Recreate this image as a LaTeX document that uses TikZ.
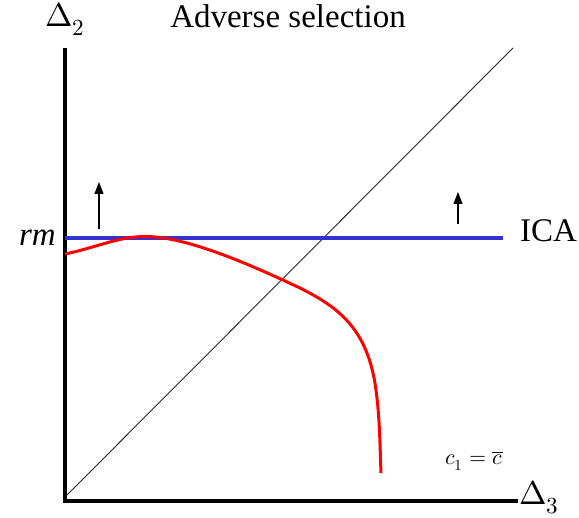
\documentclass[tikz,border=0pt]{standalone}
\usepackage{fontspec}
\usepackage{unicode-math}
\setmainfont{Liberation Serif}
\setmathfont{Latin Modern Math}
\usetikzlibrary{arrows.meta}

\definecolor{icablue}{RGB}{51,51,204}

\tikzset{
  axisline/.style={line width=4pt, black},
  bigtext/.style={font=\fontsize{33}{38}\selectfont, inner sep=0pt},
  smalltext/.style={font=\fontsize{22}{26}\selectfont, inner sep=0pt},
  shiftarrow/.style={line width=1.2pt, -{Triangle[length=12pt,width=9pt]}}
}

\begin{document}
\begin{tikzpicture}[x=1pt,y=-1pt]
\useasboundingbox (0,0) rectangle (579,518);

% axes
\coordinate (ytop) at (65,48);
\coordinate (origin) at (65,501);
\coordinate (xend) at (518,501);
\draw[axisline] (ytop) -- (origin) -- (xend);

% 45 degree line
\coordinate (d0) at (67,495);
\coordinate (d1) at (513,48);
\draw[line width=0.9pt, black!85] (d0) -- (d1);

% ICA line
\coordinate (ica0) at (65,238);
\coordinate (ica1) at (503,238);
\draw[line width=4pt, icablue] (ica0) -- (ica1);

% red curve
\coordinate (r0) at (65,254);
\coordinate (rpeak) at (145,236.5);
\coordinate (r1) at (300,288);
\coordinate (r2) at (376,390);
\coordinate (rend) at (381,473);
\draw[line width=3pt, red] (r0)
  .. controls (95,248) and (118,236.5) .. (rpeak)
  .. controls (185,236.5) and (245,262) .. (r1)
  .. controls (340,308) and (368,330) .. (r2)
  .. controls (380,420) and (380,450) .. (rend);

% arrows
\coordinate (al0) at (99,229);
\coordinate (al1) at (99,182);
\coordinate (ar0) at (458,224);
\coordinate (ar1) at (458,192);
\draw[shiftarrow] (al0) -- (al1);
\draw[shiftarrow] (ar0) -- (ar1);

% labels
\node[bigtext, anchor=base] (ylab) at (65,27) {$\Delta_2$};
\node[bigtext, anchor=base] (title) at (288,28) {Adverse selection};
\node[bigtext, anchor=base east] (rm) at (56,246) {\textit{rm}};
\node[bigtext, anchor=base west] (ica) at (520,242) {ICA};
\node[bigtext, anchor=base west] (xlab) at (519,505) {$\Delta_3$};
\node[smalltext, anchor=base] (cbar) at (474,465) {$c_1=\overline{c}$};
\end{tikzpicture}
\end{document}
